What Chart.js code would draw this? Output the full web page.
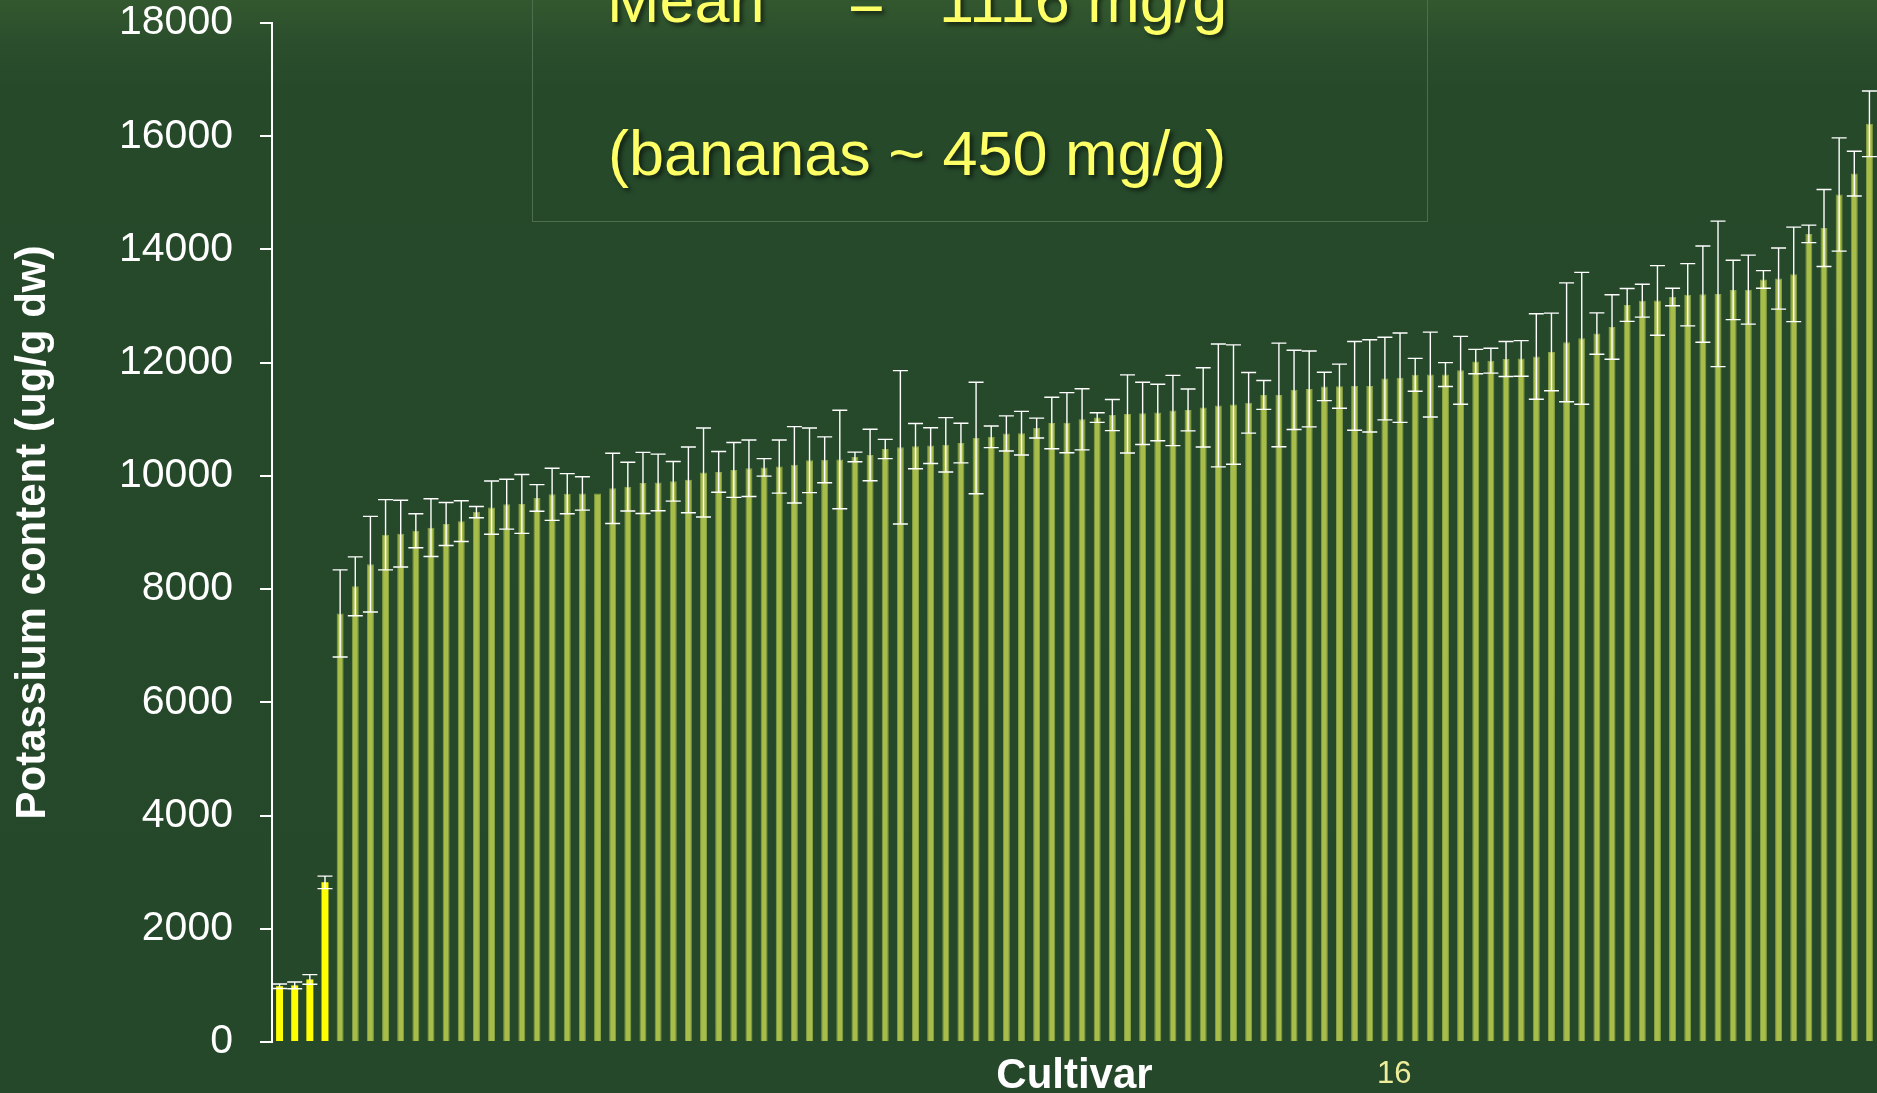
<!DOCTYPE html>
<html><head><meta charset="utf-8">
<script src="https://cdn.jsdelivr.net/npm/chart.js@4.4.1/dist/chart.umd.min.js"></script>
<style>
html,body{margin:0;padding:0;width:1877px;height:1093px;overflow:hidden;}
body{background:linear-gradient(to bottom,#33582f 0px,#2b4f2c 40px,#26492a 90px,#25482a 100%);position:relative;font-family:"Liberation Sans",Arial,sans-serif;}
#c{position:absolute;left:0;top:0;}
.box{position:absolute;left:532px;top:-80px;width:896px;height:302px;border:1px solid #4f6d4f;box-sizing:border-box;}
.t{position:absolute;color:#ffff66;font-size:63px;line-height:63px;white-space:pre;text-shadow:3px 3px 4px rgba(0,0,0,0.55);}
.pg{position:absolute;left:1377px;top:1057px;color:#eeee9a;font-size:31px;line-height:31px;}
</style></head>
<body>
<canvas id="c" width="1877" height="1093"></canvas>
<div class="box"></div>
<div class="t" style="left:607px;top:-31px">Mean</div>
<div class="t" style="left:848px;top:-31px">=</div>
<div class="t" style="left:939px;top:-31px">1116 mg/g</div>
<div class="t" style="left:608px;top:122px">(bananas ~ 450 mg/g)</div>
<div class="pg">16</div>
<script>
// Cultivars (x categories, not labelled on the axis)
const cultivars = [1,2,3,4,5,6,7,8,9,10,11,12,13,14,15,16,17,18,19,20,21,22,23,24,25,26,27,28,29,30,
31,32,33,34,35,36,37,38,39,40,41,42,43,44,45,46,47,48,49,50,51,52,53,54,55,56,57,58,59,60,
61,62,63,64,65,66,67,68,69,70,71,72,73,74,75,76,77,78,79,80,81,82,83,84,85,86,87,88,89,90,
91,92,93,94,95,96,97,98,99,100,101,102,103,104,105,106];

// Potassium content (ug/g dw)
const potassium = [985,1000,1105,2820,
7570,8050,8440,8960,8980,9030,9085,9150,9200,9360,9440,9500,9505,9610,9675,9685,9690,9690,9780,9810,9875,
9885,9905,9930,10060,10070,10105,10135,10150,10165,10195,10275,10285,10290,10335,10370,10475,10505,10525,10535,10550,
10580,10670,10690,10750,10755,10845,10935,10940,11000,11030,11075,11095,11105,11120,11155,11165,11210,11245,11260,11290,
11430,11430,11520,11535,11580,11585,11590,11590,11720,11735,11785,11790,11790,11865,12020,12035,12065,12075,12110,12190,
12360,12430,12515,12630,13020,13095,13100,13160,13200,13210,13215,13285,13290,13470,13485,13560,14275,14380,14970,15340,16220];

// Error (+/-) for each cultivar
const errors = [40,60,85,110,
770,520,845,620,590,300,510,380,360,100,470,440,520,235,460,355,295,0,620,430,540,
500,350,580,785,360,485,500,155,470,675,570,405,870,85,455,170,1355,400,315,480,
350,985,190,310,385,175,455,530,540,85,275,690,550,500,620,370,700,1085,1055,535,
255,915,700,670,250,390,785,815,730,790,290,750,210,600,215,220,310,315,755,685,
1050,1165,365,570,290,290,615,155,550,850,1285,525,610,155,540,835,155,680,1000,395,580];

const yTicks = [0,2000,4000,6000,8000,10000,12000,14000,16000,18000];
const FONT = '"Liberation Sans", Arial, sans-serif';
const HIGHLIGHT_COUNT = 4;

const errorBars = {
  id: 'errorBars',
  afterDatasetsDraw(chart) {
    const {ctx, scales: {y}} = chart;
    const meta = chart.getDatasetMeta(0);
    ctx.save();
    ctx.strokeStyle = '#ffffff';
    ctx.lineWidth = 1.4;
    const half = 7.5;
    potassium.forEach((v, i) => {
      const e = errors[i];
      if (!e) return;
      const px = meta.data[i].x;
      const yt = y.getPixelForValue(v + e);
      const yb = y.getPixelForValue(v - e);
      ctx.beginPath();
      ctx.moveTo(px, yt); ctx.lineTo(px, yb);
      ctx.moveTo(px - half, yt); ctx.lineTo(px + half, yt);
      ctx.moveTo(px - half, yb); ctx.lineTo(px + half, yb);
      ctx.stroke();
    });
    ctx.restore();
  }
};

new Chart(document.getElementById('c'), {
  type: 'bar',
  data: {
    labels: cultivars,
    datasets: [{
      data: potassium,
      backgroundColor: c => c.dataIndex < HIGHLIGHT_COUNT ? '#ffff00' : '#a8bc4a',
      borderColor: c => c.dataIndex < HIGHLIGHT_COUNT ? '#ffff00' : '#86a044',
      borderWidth: c => c.dataIndex < HIGHLIGHT_COUNT ? 0 : 1,
      barPercentage: 0.46,
      categoryPercentage: 1.0
    }]
  },
  options: {
    responsive: false,
    animation: false,
    events: [],
    layout: {padding: {top: 0, left: 0, right: 0, bottom: 0}},
    plugins: {legend: {display: false}, tooltip: {enabled: false}},
    scales: {
      x: {
        ticks: {display: false},
        grid: {display: false},
        border: {display: false},
        title: {display: true, text: 'Cultivar', color: '#ffffff',
          font: {family: FONT, size: 42, weight: 'bold', lineHeight: 1}, padding: {top: 0, bottom: -4}},
        afterFit: s => { s.height = 51; }
      },
      y: {
        min: 0, max: 18000,
        afterBuildTicks: s => { s.ticks = yTicks.map(v => ({value: v})); },
        ticks: {color: '#ffffff', padding: 27, font: {family: FONT, size: 41, lineHeight: 1},
          callback: v => String(v)},
        grid: {drawOnChartArea: false, drawTicks: true, tickLength: 12, color: '#ffffff', lineWidth: 2},
        border: {color: '#ffffff', width: 2},
        title: {display: true, text: 'Potassium content (ug/g dw)', color: '#ffffff',
          font: {family: FONT, size: 42, weight: 'bold', lineHeight: 1}, padding: {top: 12, bottom: 0}},
        afterFit: s => { s.width = 272; s.paddingTop = 23; s.paddingBottom = 0; }
      }
    }
  },
  plugins: [errorBars]
});
</script>
</body></html>
